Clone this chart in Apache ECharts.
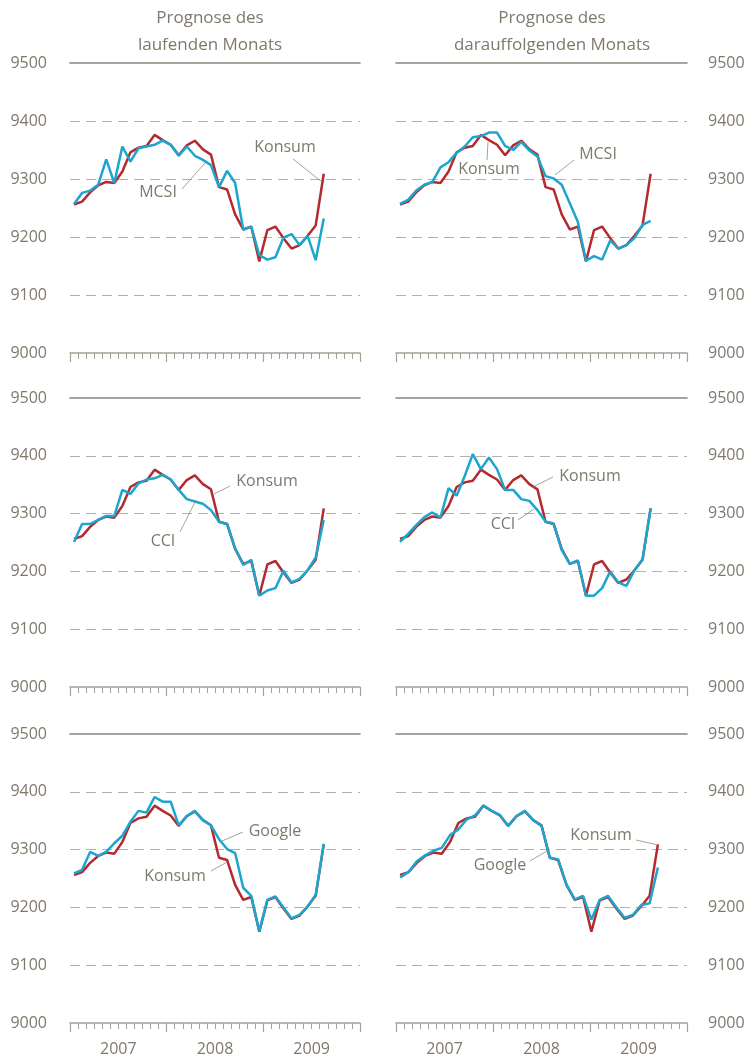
<!DOCTYPE html>
<html><head><meta charset="utf-8">
<script src="https://cdn.jsdelivr.net/npm/echarts@6/dist/echarts.min.js"></script>
<style>html,body{margin:0;padding:0;background:#fff}#c{width:751px;height:1062px}</style>
</head><body><div id="c"></div>
<script>
// ---------- data ----------
const years = ['2007', '2008', '2009'];
const months = [];
years.forEach(function (y) { for (let m = 1; m <= 12; m++) months.push(y + '-' + (m < 10 ? '0' + m : m)); });

const panelTitles = ['Prognose des\nlaufenden Monats', 'Prognose des\ndarauffolgenden Monats'];

const konsum = [9256, 9261, 9277, 9289, 9295, 9293, 9313, 9346, 9354, 9357, 9376, 9367, 9359, 9341, 9358, 9366,
  9351, 9342, 9286, 9282, 9239, 9213, 9218, 9158, 9212, 9218, 9198, 9180, 9186, 9202, 9220, 9309];

const mcsiCurrent = [9257, 9276, 9280, 9290, 9334, 9293, 9356, 9330, 9353, 9356, 9359, 9366, 9359, 9340, 9356, 9340,
  9333, 9324, 9286, 9314, 9293, 9213, 9218, 9169, 9161, 9165, 9199, 9205, 9186, 9202, 9160, 9232];
const mcsiNext = [9257, 9264, 9280, 9290, 9295, 9320, 9329, 9345, 9356, 9372, 9374, 9380, 9380, 9357, 9350, 9364,
  9349, 9339, 9305, 9301, 9290, 9258, 9226, 9159, 9167, 9161, 9194, 9180, 9186, 9198, 9221, 9228];
const cciCurrent = [9251, 9282, 9282, 9289, 9296, 9296, 9341, 9334, 9352, 9359, 9361, 9367, 9359, 9341, 9325, 9321,
  9317, 9306, 9286, 9282, 9240, 9211, 9220, 9158, 9167, 9171, 9201, 9181, 9187, 9202, 9224, 9289];
const cciNext = [9251, 9265, 9280, 9294, 9302, 9293, 9344, 9331, 9365, 9403, 9377, 9397, 9377, 9341, 9341, 9325,
  9322, 9306, 9286, 9283, 9237, 9213, 9219, 9158, 9158, 9171, 9200, 9181, 9175, 9202, 9221, 9309];
const googleCurrent = [9259, 9265, 9296, 9289, 9296, 9311, 9324, 9348, 9367, 9364, 9391, 9383, 9383, 9342, 9358, 9367,
  9351, 9342, 9318, 9301, 9294, 9234, 9220, 9159, 9213, 9219, 9200, 9181, 9187, 9201, 9222, 9310];
const googleNext = [9252, 9261, 9280, 9290, 9298, 9303, 9325, 9335, 9352, 9359, 9376, 9367, 9360, 9341, 9358, 9367,
  9351, 9341, 9286, 9283, 9240, 9214, 9220, 9179, 9213, 9220, 9200, 9182, 9187, 9204, 9207, 9269];

// ---------- style / layout ----------
const RED = '#b32a2f', BLUE = '#1ba5cf', TXT = '#7f796d', AX = '#a6a195', TOPC = '#8c877b', DASH = '#b5b0a5', LEAD = '#8f8a7e';
const FONT = '"Open Sans", sans-serif';
const rows = [{ top: 63, h: 290 }, { top: 398, h: 289 }, { top: 734, h: 289 }];
const cols = [{ left: 70, w: 290, pos: 'left', margin: 23 }, { left: 396, w: 291, pos: 'right', margin: 21 }];

const panels = [
  { row: 0, col: 0, other: mcsiCurrent, name: 'MCSI' },
  { row: 0, col: 1, other: mcsiNext, name: 'MCSI' },
  { row: 1, col: 0, other: cciCurrent, name: 'CCI' },
  { row: 1, col: 1, other: cciNext, name: 'CCI' },
  { row: 2, col: 0, other: googleCurrent, name: 'Google' },
  { row: 2, col: 1, other: googleNext, name: 'Google', stretch: true }
];

const annotations = [
  { text: 'Konsum', x: 285, y: 147, l: [293, 159, 322, 182] },
  { text: 'MCSI', x: 158, y: 192, l: [182, 189, 205, 163] },
  { text: 'Konsum', x: 489, y: 169, l: [487, 160, 488, 142] },
  { text: 'MCSI', x: 598, y: 154, l: [574, 160, 555, 175] },
  { text: 'Konsum', x: 267, y: 481, l: [230, 486, 214, 494] },
  { text: 'CCI', x: 163, y: 541, l: [180, 532, 196, 500] },
  { text: 'Konsum', x: 590, y: 476, l: [553, 477, 533, 487] },
  { text: 'CCI', x: 503, y: 524, l: [518, 520, 534, 509] },
  { text: 'Google', x: 275, y: 831, l: [243, 832, 222, 841] },
  { text: 'Konsum', x: 175, y: 876, l: [211, 871, 227, 862] },
  { text: 'Konsum', x: 601, y: 835, l: [636, 840, 658, 845] },
  { text: 'Google', x: 500, y: 865, l: [530, 861, 547, 851] }
];

const grid = [], xAxis = [], yAxis = [], series = [];
panels.forEach(function (p, k) {
  const r = rows[p.row], c = cols[p.col];
  grid.push({ left: c.left, top: r.top, width: c.w, height: r.h });
  const monthIdx = xAxis.length;
  xAxis.push({
    gridIndex: k, type: 'category', data: months, boundaryGap: true, position: 'bottom',
    axisLine: { show: true, lineStyle: { color: AX, width: 1.5 } },
    axisTick: { show: true, interval: 0, length: 6, lineStyle: { color: AX, width: 1 } },
    axisLabel: { show: false }, splitLine: { show: false }
  });
  xAxis.push({
    gridIndex: k, type: 'category', data: years, boundaryGap: true, position: 'bottom',
    axisLine: { show: false },
    axisTick: { show: true, interval: 0, length: 9, lineStyle: { color: AX, width: 1.2 } },
    axisLabel: { show: p.row === 2, interval: 0, margin: 18, fontSize: 16, color: TXT, fontFamily: FONT },
    splitLine: { show: false }
  });
  xAxis.push({
    gridIndex: k, type: 'category', data: years, position: 'top',
    axisLine: { show: true, lineStyle: { color: TOPC, width: 1.6 } },
    axisTick: { show: false }, axisLabel: { show: false }, splitLine: { show: false }
  });
  let dataIdx = monthIdx;
  if (p.stretch) {
    dataIdx = xAxis.length;
    xAxis.push({ gridIndex: k, type: 'category', data: months.slice(0, 35), boundaryGap: true, show: false });
  }
  yAxis.push({
    gridIndex: k, type: 'value', min: 9000, max: 9500, interval: 100, position: c.pos,
    axisLine: { show: false }, axisTick: { show: false },
    axisLabel: { margin: c.margin, fontSize: 16, color: TXT, fontFamily: FONT, formatter: function (v) { return String(v); } },
    splitLine: { show: true, showMinLine: false, showMaxLine: false, lineStyle: { color: DASH, type: [10, 6], width: 1 } }
  });
  series.push({
    type: 'line', name: 'Konsum', xAxisIndex: dataIdx, yAxisIndex: k, data: konsum,
    symbol: 'none', lineStyle: { color: RED, width: 2.5 }, itemStyle: { color: RED }, z: 2, animation: false
  });
  series.push({
    type: 'line', name: p.name, xAxisIndex: dataIdx, yAxisIndex: k, data: p.other,
    symbol: 'none', lineStyle: { color: BLUE, width: 2.5 }, itemStyle: { color: BLUE }, z: 3, animation: false
  });
});

const graphic = [];
[[210, 0], [552, 1]].forEach(function (t) {
  const lines = panelTitles[t[1]].split('\n');
  lines.forEach(function (ln, i) {
    graphic.push({ type: 'text', x: t[0], y: 18 + i * 27,
      style: { text: ln, fill: TXT, fontSize: 17, fontFamily: FONT, align: 'center', verticalAlign: 'middle',
        textAlign: 'center', textVerticalAlign: 'middle' } });
  });
});
annotations.forEach(function (a) {
  graphic.push({ type: 'line', shape: { x1: a.l[0], y1: a.l[1], x2: a.l[2], y2: a.l[3] },
    style: { stroke: LEAD, lineWidth: 0.8 }, z: 10 });
  graphic.push({ type: 'text', x: a.x, y: a.y, z: 10,
    style: { text: a.text, fill: TXT, fontSize: 16, fontFamily: FONT, align: 'center', verticalAlign: 'middle',
      textAlign: 'center', textVerticalAlign: 'middle' } });
});

const chart = echarts.init(document.getElementById('c'), null, { renderer: 'canvas' });
chart.setOption({
  backgroundColor: '#ffffff', animation: false,
  grid: grid, xAxis: xAxis, yAxis: yAxis, series: series, graphic: graphic
});
</script></body></html>
